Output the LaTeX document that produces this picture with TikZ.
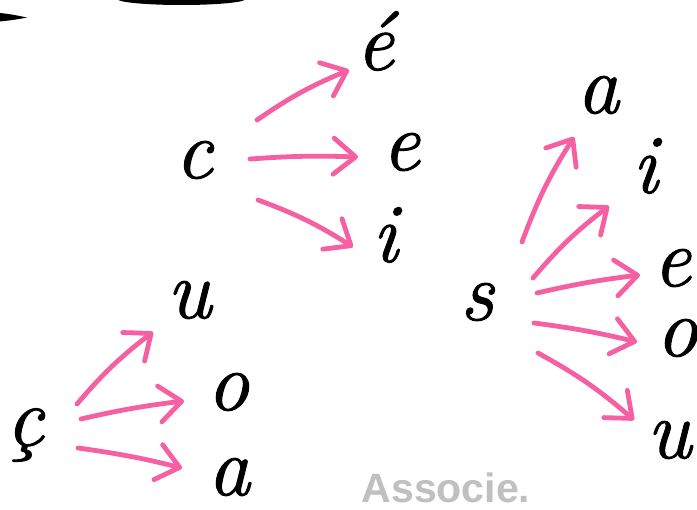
\documentclass[tikz,border=0pt]{standalone}
\usepackage{fontspec}
\newfontfamily\labelfont{Liberation Sans}
\newfontfamily\handfont[FakeBold=1.2]{Latin Modern Roman}
\usetikzlibrary{arrows.meta}
\definecolor{arrowpink}{RGB}{244,96,162}
\definecolor{hintgray}{RGB}{192,192,192}
\tikzset{
  letter/.style={inner sep=0pt, font=\handfont\itshape\fontsize{84}{84}\selectfont},
  arr/.style={draw=arrowpink, line width=4.8pt, line cap=round, line join=round,
    -{Straight Barb[length=22pt,width=36pt,line cap=round,line join=round]}, bend left=6},
  hint/.style={inner sep=0pt, text=hintgray, font=\labelfont\bfseries\fontsize{41}{41}\selectfont}
}
\begin{document}
\begin{tikzpicture}[x=1pt,y=-1pt]
\useasboundingbox[fill=white] (0,0) rectangle (697,510);
% cut-off shapes at the top
\fill[black] (181.5,-1) ellipse [x radius=64, y radius=6];
\fill[black] (0,13) .. controls (10,14) and (20,16) .. (27,17.5) .. controls (20,19) and (10,20.5) .. (0,21.5) -- cycle;
% letters
\node[letter] (c)  at (194,160) {c};
\node[letter] (e1) at (375,41) {é};
\node[letter] (e2) at (401,152) {e};
\node[letter] (i1) at (385,235) {i};
\node[letter] (s)  at (477,302) {s};
\node[letter] (a2) at (598,95) {a};
\node[letter] (i2) at (645,166) {i};
\node[letter] (e3) at (672,268) {e};
\node[letter] (o2) at (677,338) {o};
\node[letter] (u2) at (669,440) {u};
\node[letter] (cc) at (25,435) {ç};
\node[letter] (u1) at (189,300) {u};
\node[letter] (o1) at (228,392) {o};
\node[letter] (a1) at (229,477) {a};
% arrows from c
\draw[arr] ([shift={(63,-40)}]c.center) to ([shift={(-26,29)}]e1.center);
\draw[arr,bend left=3] ([shift={(56,-1)}]c.center) to ([shift={(-43,5)}]e2.center);
\draw[arr] ([shift={(64,40)}]c.center) to ([shift={(-32,12)}]i1.center);
% arrows from s
\draw[arr] ([shift={(45,-60)}]s.center) to ([shift={(-24,42)}]a2.center);
\draw[arr] ([shift={(56,-24)}]s.center) to ([shift={(-36,40)}]i2.center);
\draw[arr,bend left=3] ([shift={(60,-9)}]s.center) to ([shift={(-32,7)}]e3.center);
\draw[arr,bend left=3] ([shift={(57,21)}]s.center) to ([shift={(-40,4)}]o2.center);
\draw[arr] ([shift={(61,51)}]s.center) to ([shift={(-35,-20)}]u2.center);
% arrows from ç
\draw[arr] ([shift={(52,-31)}]cc.center) to ([shift={(-36,32)}]u1.center);
\draw[arr,bend left=3] ([shift={(56,-16)}]cc.center) to ([shift={(-44,9)}]o1.center);
\draw[arr,bend left=3] ([shift={(53,13)}]cc.center) to ([shift={(-47,-9)}]a1.center);
% instruction
\node[hint] (title) at (446,488) {Associe.};
\end{tikzpicture}
\end{document}
